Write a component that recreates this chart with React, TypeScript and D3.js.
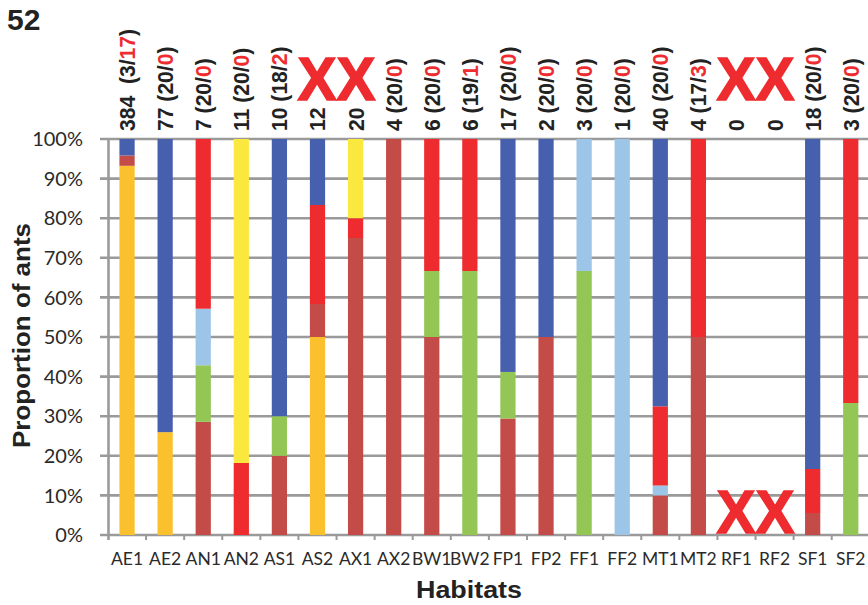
import React from 'react';
import * as d3 from 'd3';

const habitats = ['AE1', 'AE2', 'AN1', 'AN2', 'AS1', 'AS2', 'AX1', 'AX2', 'BW1', 'BW2',
  'FP1', 'FP2', 'FF1', 'FF2', 'MT1', 'MT2', 'RF1', 'RF2', 'SF1', 'SF2'];

// ants counted per habitat, split by colour group
const orange = [358, 20, 0, 0, 0, 6, 0, 0, 0, 0, 0, 0, 0, 0, 0, 0, 0, 0, 0, 0];
const brick = [10, 0, 2, 0, 2, 1, 15, 4, 3, 0, 5, 1, 0, 0, 4, 2, 0, 0, 1, 0];
const green = [0, 0, 1, 0, 1, 0, 0, 0, 1, 4, 2, 0, 2, 0, 0, 0, 0, 0, 0, 1];
const lightBlue = [0, 0, 1, 0, 0, 0, 0, 0, 0, 0, 0, 0, 1, 1, 1, 0, 0, 0, 0, 0];
const red = [0, 0, 3, 2, 0, 3, 1, 0, 2, 2, 0, 0, 0, 0, 8, 2, 0, 0, 2, 2];
const yellow = [0, 0, 0, 9, 0, 0, 4, 0, 0, 0, 0, 0, 0, 0, 0, 0, 0, 0, 0, 0];
const blue = [16, 57, 0, 0, 7, 2, 0, 0, 0, 0, 10, 1, 0, 0, 27, 0, 0, 0, 15, 0];

// labels above the bars: total (a/b), b shown in red
const totals = ['384\u00A0', '77', '7', '11', '10', '12', '20', '4', '6', '6',
  '17', '2', '3', '1', '40', '4', '0', '0', '18', '3'];
const sampleA = [3, 20, 20, 20, 18, null, null, 20, 20, 19, 20, 20, 20, 20, 20, 17, null, null, 20, 20];
const sampleB = [17, 0, 0, 0, 2, null, null, 0, 0, 1, 0, 0, 0, 0, 0, 3, null, null, 0, 0];

const crossed = [
  { from: 'AS2', to: 'AX1', pos: 'top' },
  { from: 'RF1', to: 'RF2', pos: 'top' },
  { from: 'RF1', to: 'RF2', pos: 'bottom' },
];

const yTicks = [0, 0.1, 0.2, 0.3, 0.4, 0.5, 0.6, 0.7, 0.8, 0.9, 1];

const groups = ['orange', 'brick', 'green', 'lightBlue', 'red', 'yellow', 'blue'];
const groupValues: Record<string, number[]> = { orange, brick, green, lightBlue, red, yellow, blue };
const colors: Record<string, string> = {
  orange: '#FBC02D',
  brick: '#C44C48',
  green: '#93C655',
  lightBlue: '#9DC5E8',
  red: '#EE2B2F',
  yellow: '#FBE83E',
  blue: '#4660AE',
};

const W = 868;
const H = 605;
const gridColor = '#9a9a9a';
const boldFont = '"Liberation Sans", Arial, sans-serif';
const tickFont = 'Lato, "Open Sans", sans-serif';

const App = () => {
  const rows = habitats.map((h, i) => {
    const r: any = { habitat: h };
    groups.forEach(g => { r[g] = groupValues[g][i]; });
    return r;
  });

  const series = d3.stack<any>()
    .keys(groups)
    .offset(d3.stackOffsetExpand)(rows);

  const x = d3.scaleBand<string>()
    .domain(habitats)
    .range([108, 869.8])
    .paddingInner(0.6)
    .paddingOuter(0.3);

  const y = d3.scaleLinear().domain([0, 1]).range([535, 139]);
  const pct = d3.format('.0%');
  const step = x.step();
  const bw = x.bandwidth();
  const cx = (h: string) => (x(h) as number) + bw / 2;
  const edge = (h: string) => (x(h) as number) - (step - bw) / 2;

  return (
    <div style={{ position: 'absolute', left: 0, top: 0 }}>
      <svg width={W} height={H} style={{ display: 'block', background: '#fff' }}>
        <text x={7} y={30} fontFamily={boldFont} fontWeight="bold" fontSize={30} fill="#222">52</text>

        {/* gridlines */}
        {yTicks.map(t => (
          <line key={t} x1={100} x2={W} y1={y(t)} y2={y(t)} stroke={gridColor} strokeWidth={2.6} />
        ))}
        <line x1={108.5} x2={108.5} y1={y(1)} y2={y(0) + 5} stroke={gridColor} strokeWidth={2.6} />
        {habitats.map(h => (
          <line key={h} x1={edge(h) + step} x2={edge(h) + step} y1={y(0)} y2={y(0) + 5}
            stroke={gridColor} strokeWidth={2} />
        ))}

        {/* y tick labels */}
        {yTicks.map(t => (
          <text key={t} x={83} y={y(t)} dy="0.36em" textAnchor="end"
            fontFamily={tickFont} fontSize={20} fill="#2a2a2a">{pct(t)}</text>
        ))}

        {/* stacked bars */}
        {series.map(s => (
          <g key={s.key} fill={colors[s.key]}>
            {s.map((d, i) => {
              const h = y(d[0]) - y(d[1]);
              if (!(h > 0)) return null;
              return <rect key={i} x={x(habitats[i])} width={bw} y={y(d[1])} height={h} />;
            })}
          </g>
        ))}

        {/* x tick labels */}
        {habitats.map(h => (
          <text key={h} x={cx(h)} y={564.5} textAnchor="middle"
            fontFamily={tickFont} fontSize={17.5} fill="#2a2a2a">{h}</text>
        ))}

        {/* labels above bars */}
        {habitats.map((h, i) => (
          <text key={h} transform={`translate(${cx(h) + 8},131) rotate(-90) scale(0.96,1)`}
            fontFamily={boldFont} fontWeight="bold" fontSize={22} fill="#222">
            {totals[i]}
            {sampleA[i] !== null && (
              <>
                {' ('}{sampleA[i]}/
                <tspan fill="#EE2B2F">{sampleB[i]}</tspan>)
              </>
            )}
          </text>
        ))}

        {/* crossed-out habitats */}
        {crossed.map((c, i) => (
          <text key={i} x={(cx(c.from) + cx(c.to)) / 2} y={c.pos === 'top' ? 100 : y(0) - 2}
            textAnchor="middle" fontFamily={boldFont} fontWeight="bold" fontSize={62}
            textLength={78} lengthAdjust="spacingAndGlyphs"
            fill="#EE2B2F" stroke="#EE2B2F" strokeWidth={1.5}>XX</text>
        ))}

        {/* axis titles */}
        <text transform="translate(29.5,335.5) rotate(-90)" textAnchor="middle"
          fontFamily={boldFont} fontWeight="bold" fontSize={23} fill="#222"
          textLength={225} lengthAdjust="spacingAndGlyphs">Proportion of ants</text>
        <text x={469} y={598} textAnchor="middle"
          fontFamily={boldFont} fontWeight="bold" fontSize={23} fill="#222"
          textLength={106} lengthAdjust="spacingAndGlyphs">Habitats</text>
      </svg>
    </div>
  );
};

export default App;
